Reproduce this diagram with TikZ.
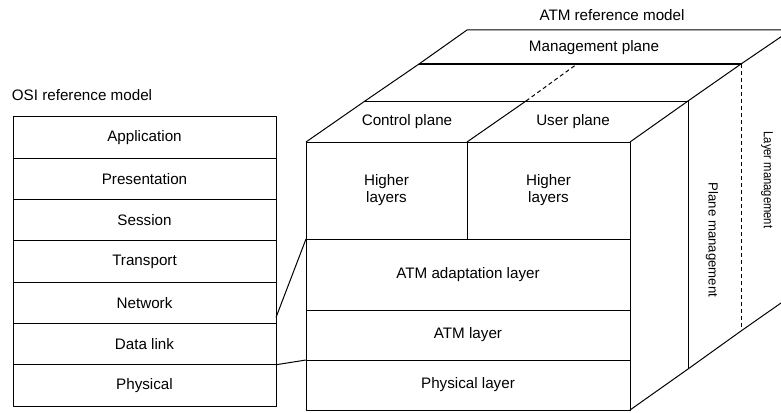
\documentclass[tikz,border=0pt]{standalone}
\usepackage{fontspec}
\setmainfont{Liberation Sans}
\begin{document}
\begin{tikzpicture}[x=1pt, y=-1pt, line width=1pt, line join=round,
  txt/.style={font=\fontsize{15.2}{17}\selectfont, inner sep=0pt},
  sidetxt/.style={inner sep=0pt, rotate=-90, font=\fontsize{13.2}{15}\selectfont},
  osibox/.style={draw, minimum width=263pt, minimum height=41.3pt, inner sep=0pt, outer sep=0pt,
                 font=\fontsize{15.2}{17}\selectfont},
  atmbox/.style={draw, inner sep=0pt, outer sep=0pt, font=\fontsize{15.2}{17}\selectfont, align=center},
  hidden/.style={dash pattern=on 4pt off 3pt}]
\useasboundingbox (0,0) rectangle (781,412);
\clip (0,0) rectangle (781,412);

% ---------- OSI stack ----------
\node[txt] (osititle) at (82,95) {OSI reference model};
\node[osibox] (app)  at (144.5,137.6) {Application};
\node[osibox] (pres) at (144.5,178.9) {Presentation};
\node[osibox] (sess) at (144.5,220.2) {Session};
\node[osibox] (tran) at (144.5,261.5) {Transport};
\node[osibox] (net)  at (144.5,302.8) {Network};
\node[osibox] (dl)   at (144.5,344.1) {Data link};
\node[osibox] (phy)  at (144.5,385.4) {Physical};

% ---------- ATM cube: front face ----------
\node[atmbox, minimum width=161pt, minimum height=97pt] (hl1) at (386.5,190.5) {Higher\\layers};
\node[atmbox, minimum width=163pt, minimum height=97pt] (hl2) at (548.5,190.5) {Higher\\layers};
\node[atmbox, minimum width=324pt, minimum height=71pt] (aal) at (468,274.5) {ATM adaptation layer};
\node[atmbox, minimum width=324pt, minimum height=50pt] (atm) at (468,335) {ATM layer};
\node[atmbox, minimum width=324pt, minimum height=50pt] (pl)  at (468,385) {Physical layer};

% ---------- ATM cube: top and side ----------
\coordinate (L0) at (306,142);   \coordinate (M0) at (467,142);   \coordinate (R0) at (630,142);
\coordinate (L1) at (365,101);   \coordinate (M1) at (526,101);   \coordinate (R1) at (688,101);
\coordinate (L2) at (419,64);    \coordinate (M2) at (577,64);    \coordinate (R2) at (741,64);
\coordinate (L3) at (467,30);    \coordinate (R3) at (791,30);
\coordinate (B0) at (630,410);   \coordinate (B1) at (688,369);
\coordinate (B2) at (741,331);   \coordinate (B3) at (791,296);

\draw (L0) -- (L1) -- (L2) -- (L3) -- (R3);
\draw (R0) -- (R1) -- (R2) -- (R3);
\draw (L1) -- (R1);
\draw (L2) -- (R2);
\draw (M0) -- (M1);
\draw[hidden] (M1) -- (M2);
\draw (B0) -- (B1) -- (B2) -- (B3);
\draw (R1) -- (B1);
\draw[hidden] (R2) -- (B2);

\node[txt] (atmtitle) at (612,15) {ATM reference model};
\node[txt] (mgmt) at (594,48) {Management plane};
\node[txt] (ctrl) at (407,122) {Control plane};
\node[txt] (user) at (573,122) {User plane};
\node[sidetxt] (planemgmt) at (712,240) {Plane management};
\node[sidetxt] (layermgmt) at (767,180) {\scalebox{0.85}[1]{Layer management}};

% ---------- correspondence lines ----------
\draw ([yshift=6pt]net.south east) -- (aal.north west);
\draw (dl.south east) -- (atm.south west);
\end{tikzpicture}
\end{document}
